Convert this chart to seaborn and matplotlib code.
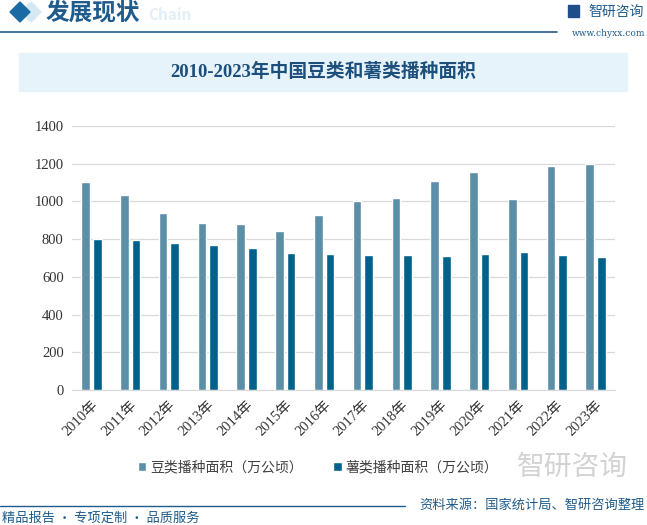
import pandas as pd
import numpy as np
import matplotlib.pyplot as plt
import seaborn as sns
from matplotlib.patches import Rectangle, Polygon

years = ["2010年", "2011年", "2012年", "2013年", "2014年", "2015年", "2016年",
         "2017年", "2018年", "2019年", "2020年", "2021年", "2022年", "2023年"]
beans = [1103, 1034, 939, 886, 880, 843, 928, 1002, 1018, 1108, 1156, 1013, 1188, 1199]
tubers = [801, 795, 780, 769, 753, 727, 721, 716, 716, 711, 721, 732, 716, 705]
series_names = ["豆类播种面积（万公顷）", "薯类播种面积（万公顷）"]
colors = ["#5b8fa8", "#00628a"]

df = pd.DataFrame({
    "year": years * 2,
    "value": beans + tubers,
    "series": [series_names[0]] * len(years) + [series_names[1]] * len(years),
})

sns.set_style("white")
plt.rcParams['font.family'] = ['Noto Sans CJK SC', 'DejaVu Sans']
serif = ['Liberation Serif', 'Noto Sans CJK SC']

fig = plt.figure(figsize=(6.47, 5.25), dpi=100)
W, H = 647, 525

def fx(x):
    return x / W

def fy(y):
    return 1 - y / H

def diamond(cx, cy, r, color):
    fig.patches.append(Polygon([[fx(cx - r), fy(cy)], [fx(cx), fy(cy - r)], [fx(cx + r), fy(cy)], [fx(cx), fy(cy + r)]],
                               closed=True, transform=fig.transFigure, color=color))

# header
diamond(31, 12, 10, "#d6e8f4")
diamond(20, 12, 10, "#1a6aa3")
fig.text(fx(46), fy(12), "发展现状", fontsize=17, fontweight="bold", color="#1f5c8b", va="center")
fig.text(fx(148), fy(15), "Chain", fontsize=11, fontweight="bold", color="#e2eff8", va="center")
fig.add_artist(plt.Line2D([0, fx(557)], [fy(32), fy(32)], color="#1f5c8b", lw=1.2))
fig.patches.append(Rectangle((fx(568), fy(17)), 11 / W, 12 / H, transform=fig.transFigure,
                             color="#1f4f8b"))
fig.text(fx(644), fy(12), "智研咨询", fontsize=10, color="#1f5c8b", va="center", ha="right")
fig.text(fx(645), fy(33), "www.chyxx.com", fontsize=6.5, color="#1f5c8b", va="center", ha="right",
         family="DejaVu Serif")

# title banner
fig.patches.append(Rectangle((fx(19), fy(91)), fx(608), 38 / H, transform=fig.transFigure,
                             color="#e6f3fb", zorder=0))
fig.text(0.5, fy(72), "2010-2023年中国豆类和薯类播种面积", fontsize=13.5, fontweight="bold",
         color="#1d4f7c", ha="center", va="center", family=serif)

# watermark-ish logo at bottom right
fig.text(fx(628), fy(467), "智研咨询", fontsize=20, color="#c8c8c8", ha="right", va="center", alpha=0.8)

ax = fig.add_axes([fx(72), fy(390), fx(615) - fx(72), (390 - 126) / H])
sns.barplot(data=df, x="year", y="value", hue="series", palette=colors,
            width=0.6, gap=0.26, saturation=1, ax=ax)

ax.set_ylim(0, 1400)
ax.set_yticks(np.arange(0, 1401, 200))
ax.set_xlim(-0.5, len(years) - 0.5)
ax.yaxis.grid(True, color="#d9d9d9", lw=0.9)
ax.set_axisbelow(True)
for s in ["left", "right", "top"]:
    ax.spines[s].set_visible(False)
ax.spines["bottom"].set_color("#d9d9d9")
ax.set_xlabel("")
ax.set_ylabel("")
ax.tick_params(axis="both", length=0, labelsize=10.5, colors="#333333", pad=6)
for lab in ax.get_yticklabels():
    lab.set_family(serif)
ax.set_xticks(range(len(years)))
ax.set_xticklabels(years, rotation=45, ha="right", rotation_mode="anchor", family=serif, fontsize=10.5)

ax.legend_.remove()
handles, labels = ax.get_legend_handles_labels()
fig.legend(handles, labels, loc="center", bbox_to_anchor=(fx(318), fy(467)), ncol=2, frameon=False,
           fontsize=10, handlelength=0.6, handleheight=0.6, handletextpad=0.3, columnspacing=2.2,
           labelcolor="#404040")

# footer
fig.add_artist(plt.Line2D([0, fx(405)], [fy(506), fy(506)], color="#1f5c8b", lw=1.0))
fig.text(fx(645), fy(505), "资料来源：国家统计局、智研咨询整理", fontsize=9.5, color="#1f5c8b",
         ha="right", va="center")
fig.text(fx(2), fy(518), "精品报告 · 专项定制 · 品质服务", fontsize=9.5, color="#1f5c8b",
         ha="left", va="center")

fig.savefig("out.png", dpi=100)
